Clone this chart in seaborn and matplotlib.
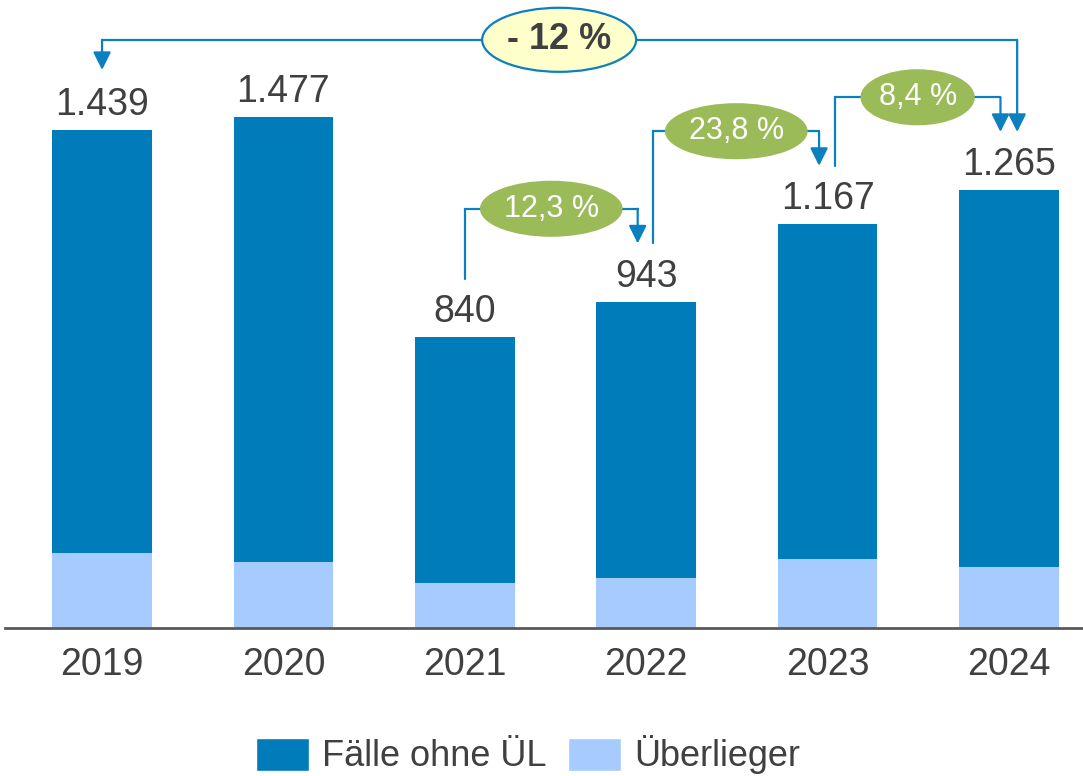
import numpy as np
import pandas as pd
import seaborn as sns
import matplotlib.pyplot as plt
from matplotlib.patches import Ellipse, Patch

# data
years = ['2019', '2020', '2021', '2022', '2023', '2024']
total = [1439, 1477, 840, 943, 1167, 1265]
ueberlieger = [217, 191, 130, 145, 199, 176]
total_labels = ['1.439', '1.477', '840', '943', '1.167', '1.265']
# year-on-year changes: (from index, to index, label)
changes = [(2, 3, '12,3 %'), (3, 4, '23,8 %'), (4, 5, '8,4 %')]
overall = (0, 5, '- 12 %')

df = pd.DataFrame({'Jahr': years, 'Gesamt': total, 'Überlieger': ueberlieger})
df['Fälle ohne ÜL'] = df['Gesamt'] - df['Überlieger']

dark = '#007cba'
light = '#a6ccff'
green = '#9bbb59'
yellow = '#ffffcc'
arrow_c = '#0a80c0'
txt = '#404040'

sns.set_style('white')
plt.rcParams['font.family'] = ['Liberation Sans', 'DejaVu Sans']

fig = plt.figure(figsize=(10.83, 7.76), dpi=100)
ax = fig.add_axes([5 / 1083, 148 / 776, 1078 / 1083, 628 / 776])

# stacked look: full bar in dark blue, Überlieger part over it in light blue
sns.barplot(data=df, x='Jahr', y='Gesamt', color=dark, saturation=1, width=0.55,
            edgecolor='none', ax=ax)
sns.barplot(data=df, x='Jahr', y='Überlieger', color=light, saturation=1, width=0.55,
            edgecolor='none', ax=ax)

ax.set_xlim(-0.535, 5.408)
ax.set_ylim(0, 1814)
ax.set_xlabel('')
ax.set_ylabel('')
ax.set_yticks([])
for s in ['top', 'right', 'left']:
    ax.spines[s].set_visible(False)
ax.spines['bottom'].set_color('#595959')
ax.spines['bottom'].set_linewidth(2)
ax.tick_params(axis='x', length=0, pad=14, labelsize=27, labelcolor=txt)

# totals above the bars
for i, (t, lab) in enumerate(zip(total, total_labels)):
    ax.text(i, t + 43, lab, ha='center', va='baseline', fontsize=27, color=txt)


def arrow_down(x, y_from, y_to):
    ax.annotate('', xy=(x, y_to), xytext=(x, y_from),
                arrowprops=dict(arrowstyle='-|>,head_length=0.4,head_width=0.2',
                                color=arrow_c, lw=1.6, mutation_scale=27,
                                shrinkA=0, shrinkB=0))


# small brackets between neighbouring years
for k, (i, j, lab) in enumerate(changes):
    xl = i + (0.0 if k == 0 else 0.04)
    xr = j - 0.047
    y0 = total[i] + 168
    tip = total[j] + 168
    ytop = tip + 100
    ax.plot([xl, xl, xr, xr], [y0, ytop, ytop, ytop], color=arrow_c, lw=1.6,
            solid_joinstyle='miter', zorder=3)
    arrow_down(xr, ytop, tip)
    xm = (xl + xr) / 2
    w = 0.63 if k == 2 else 0.787
    ax.add_patch(Ellipse((xm, ytop), w, 162, facecolor=green, edgecolor='none', zorder=4))
    ax.text(xm, ytop, lab, ha='center', va='center', fontsize=22, color='white', zorder=5)

# overall bracket 2019 -> 2024
i, j, lab = overall
xl, xr = i, j + 0.045
ytop = 1699
ax.plot([xl, xr], [ytop, ytop], color=arrow_c, lw=1.6, zorder=3)
arrow_down(xl, ytop, total[i] + 173)
arrow_down(xr, ytop, total[j] + 168)
ax.add_patch(Ellipse((2.52, ytop), 0.849, 185, facecolor=yellow, edgecolor=arrow_c,
                     lw=1.6, zorder=4))
ax.text(2.52, ytop, lab, ha='center', va='center', fontsize=26, fontweight='bold',
        color=txt, zorder=5)

handles = [Patch(facecolor=dark, label='Fälle ohne ÜL'),
           Patch(facecolor=light, label='Überlieger')]
fig.legend(handles=handles, loc='center', bbox_to_anchor=(528 / 1083, 1 - 755 / 776),
           ncol=2, frameon=False, fontsize=26, labelcolor=txt, handlelength=1.47,
           handleheight=1.03, handletextpad=0.36, columnspacing=0.6)

fig.savefig('out.png', dpi=100)
